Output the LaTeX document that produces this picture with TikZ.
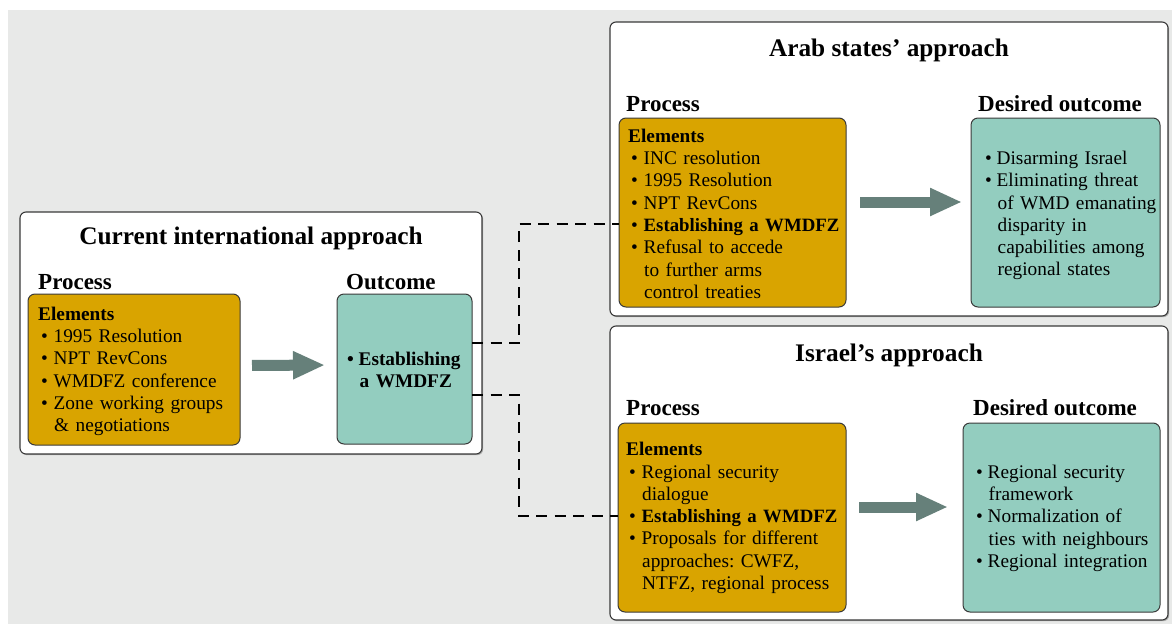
\documentclass[tikz,border=0pt]{standalone}
\usepackage{fontspec}
\setmainfont{Liberation Serif}
\usetikzlibrary{arrows.meta,shadows}
\definecolor{bgc}{HTML}{E8E9E8}
\definecolor{orc}{HTML}{D9A400}
\definecolor{tlc}{HTML}{93CDBF}
\definecolor{arc}{HTML}{66807A}
\definecolor{edc}{HTML}{3A3A3A}
\newcommand{\itm}{\hspace*{3pt}\makebox[12.5pt][l]{•}}
\newcommand{\cnt}{\hspace*{16pt}}
\newcommand{\tbul}{\makebox[11.5pt][l]{•}}
\newcommand{\tcnt}{\hspace*{12.5pt}}
\newcommand{\fst}{\rule{0pt}{15pt}}
\newcommand{\estab}{{\fontsize{18.8}{22.3}\selectfont\bfseries Establishing a WMDFZ}}
\frenchspacing
\begin{document}
\begin{tikzpicture}[x=1pt,y=-1pt,
 panel/.style={draw=edc, line width=1.1pt, fill=white, rounded corners=6pt, anchor=north west, inner sep=0pt, outer sep=0pt,
   drop shadow={shadow xshift=1.2pt, shadow yshift=-1.2pt, opacity=0.25, fill=black}},
 procbox/.style={draw=edc, line width=1pt, fill=orc, rounded corners=7pt, anchor=north west, inner sep=0pt, outer sep=0pt},
 outbox/.style={procbox, fill=tlc},
 ttl/.style={font=\fontsize{25.3}{30}\selectfont\bfseries, anchor=base, inner sep=0pt},
 hdr/.style={font=\fontsize{23}{28}\selectfont\bfseries, anchor=base west, inner sep=0pt},
 body/.style={font=\fontsize{19.3}{22.3}\selectfont\frenchspacing, anchor=north west, inner sep=0pt, text width=230pt, align=left},
 bigarrow/.style={line width=11pt, draw=arc, -{Triangle[length=32pt,width=26pt]}},
 conn/.style={draw=black, line width=2.4pt, dash pattern=on 11pt off 7.5pt}
]
\useasboundingbox (0,0) rectangle (1172,624);
\fill[bgc] (8,10) rectangle (1172,624);

% panels
\node[panel, minimum width=462pt, minimum height=242pt] (cur) at (20,212) {};
\node[panel, minimum width=558pt, minimum height=294pt] (arab) at (610,22) {};
\node[panel, minimum width=558pt, minimum height=294pt] (isr) at (610,326) {};

% titles
\node[ttl] (curttl) at (251,244.5) {Current international approach};
\node[ttl] (arabttl) at (889,56) {Arab states’ approach};
\node[ttl] (isrttl) at (889,361) {Israel’s approach};

% headers
\node[hdr] (curph) at (38,289) {Process};
\node[hdr] (curoh) at (346,289) {Outcome};
\node[hdr] (arabph) at (626,111.5) {Process};
\node[hdr] (araboh) at (978,111.5) {Desired outcome};
\node[hdr] (isrph) at (626,415.5) {Process};
\node[hdr] (isroh) at (973,415.5) {Desired outcome};

% inner boxes
\node[procbox, minimum width=212pt, minimum height=151pt] (curproc) at (28,294) {};
\node[outbox, minimum width=135pt, minimum height=150pt] (curout) at (337,294) {};
\node[procbox, minimum width=227pt, minimum height=189pt] (arabproc) at (619,118) {};
\node[outbox, minimum width=189pt, minimum height=189pt] (arabout) at (971,118) {};
\node[procbox, minimum width=228pt, minimum height=189pt] (isrproc) at (618,423) {};
\node[outbox, minimum width=197pt, minimum height=189pt] (isrout) at (963,423) {};

% box texts
\node[body] (curproctxt) at (38,305) {\fst\textbf{Elements}\\
\itm 1995 Resolution\\
\itm NPT RevCons\\
\itm WMDFZ conference\\
\itm Zone working groups\\
\cnt\& negotiations};

\node[body] (curouttxt) at (347,350) {\fst\textbf{\tbul Establishing}\\
\textbf{\tcnt a WMDFZ}};

\node[body] (arabproctxt) at (628,127) {\fst\textbf{Elements}\\
\itm INC resolution\\
\itm 1995 Resolution\\
\itm NPT RevCons\\
\itm\estab\\
\itm Refusal to accede\\
\cnt to further arms\\
\cnt control treaties};

\node[body] (araboutxt) at (985,149.2) {\fst\tbul Disarming Israel\\
\tbul Eliminating threat\\
\tcnt of WMD emanating\\
\tcnt disparity in\\
\tcnt capabilities among\\
\tcnt regional states};

\node[body] (isrproctxt) at (626,440.5) {\fst\textbf{Elements}\\
\itm Regional security\\
\cnt dialogue\\
\itm\estab\\
\itm Proposals for different\\
\cnt approaches: CWFZ,\\
\cnt NTFZ, regional process};

\node[body] (isroutxt) at (976,463) {\fst\tbul Regional security\\
\tcnt framework\\
\tbul Normalization of\\
\tcnt ties with neighbours\\
\tbul Regional integration};

% big arrows
\draw[bigarrow, shorten <=12pt, shorten >=12pt] ([yshift=4pt]curproc.east) -- ([yshift=4pt]curout.west);
\draw[bigarrow, shorten <=14pt, shorten >=9pt] ([yshift=10.5pt]arabproc.east) -- ([yshift=10.5pt]arabout.west);
\draw[bigarrow, shorten <=13pt, shorten >=15pt] ([yshift=10.5pt]isrproc.east) -- ([yshift=10.5pt]isrout.west);

% dashed connectors
\draw[conn] ([yshift=26pt]curout.east) -- ++(47,0) |- ([yshift=-11.5pt]arabproc.west);
\draw[conn] ([yshift=-26pt]curout.east) -- ++(47,0) |- ([yshift=1.5pt]isrproc.west);
\end{tikzpicture}
\end{document}
